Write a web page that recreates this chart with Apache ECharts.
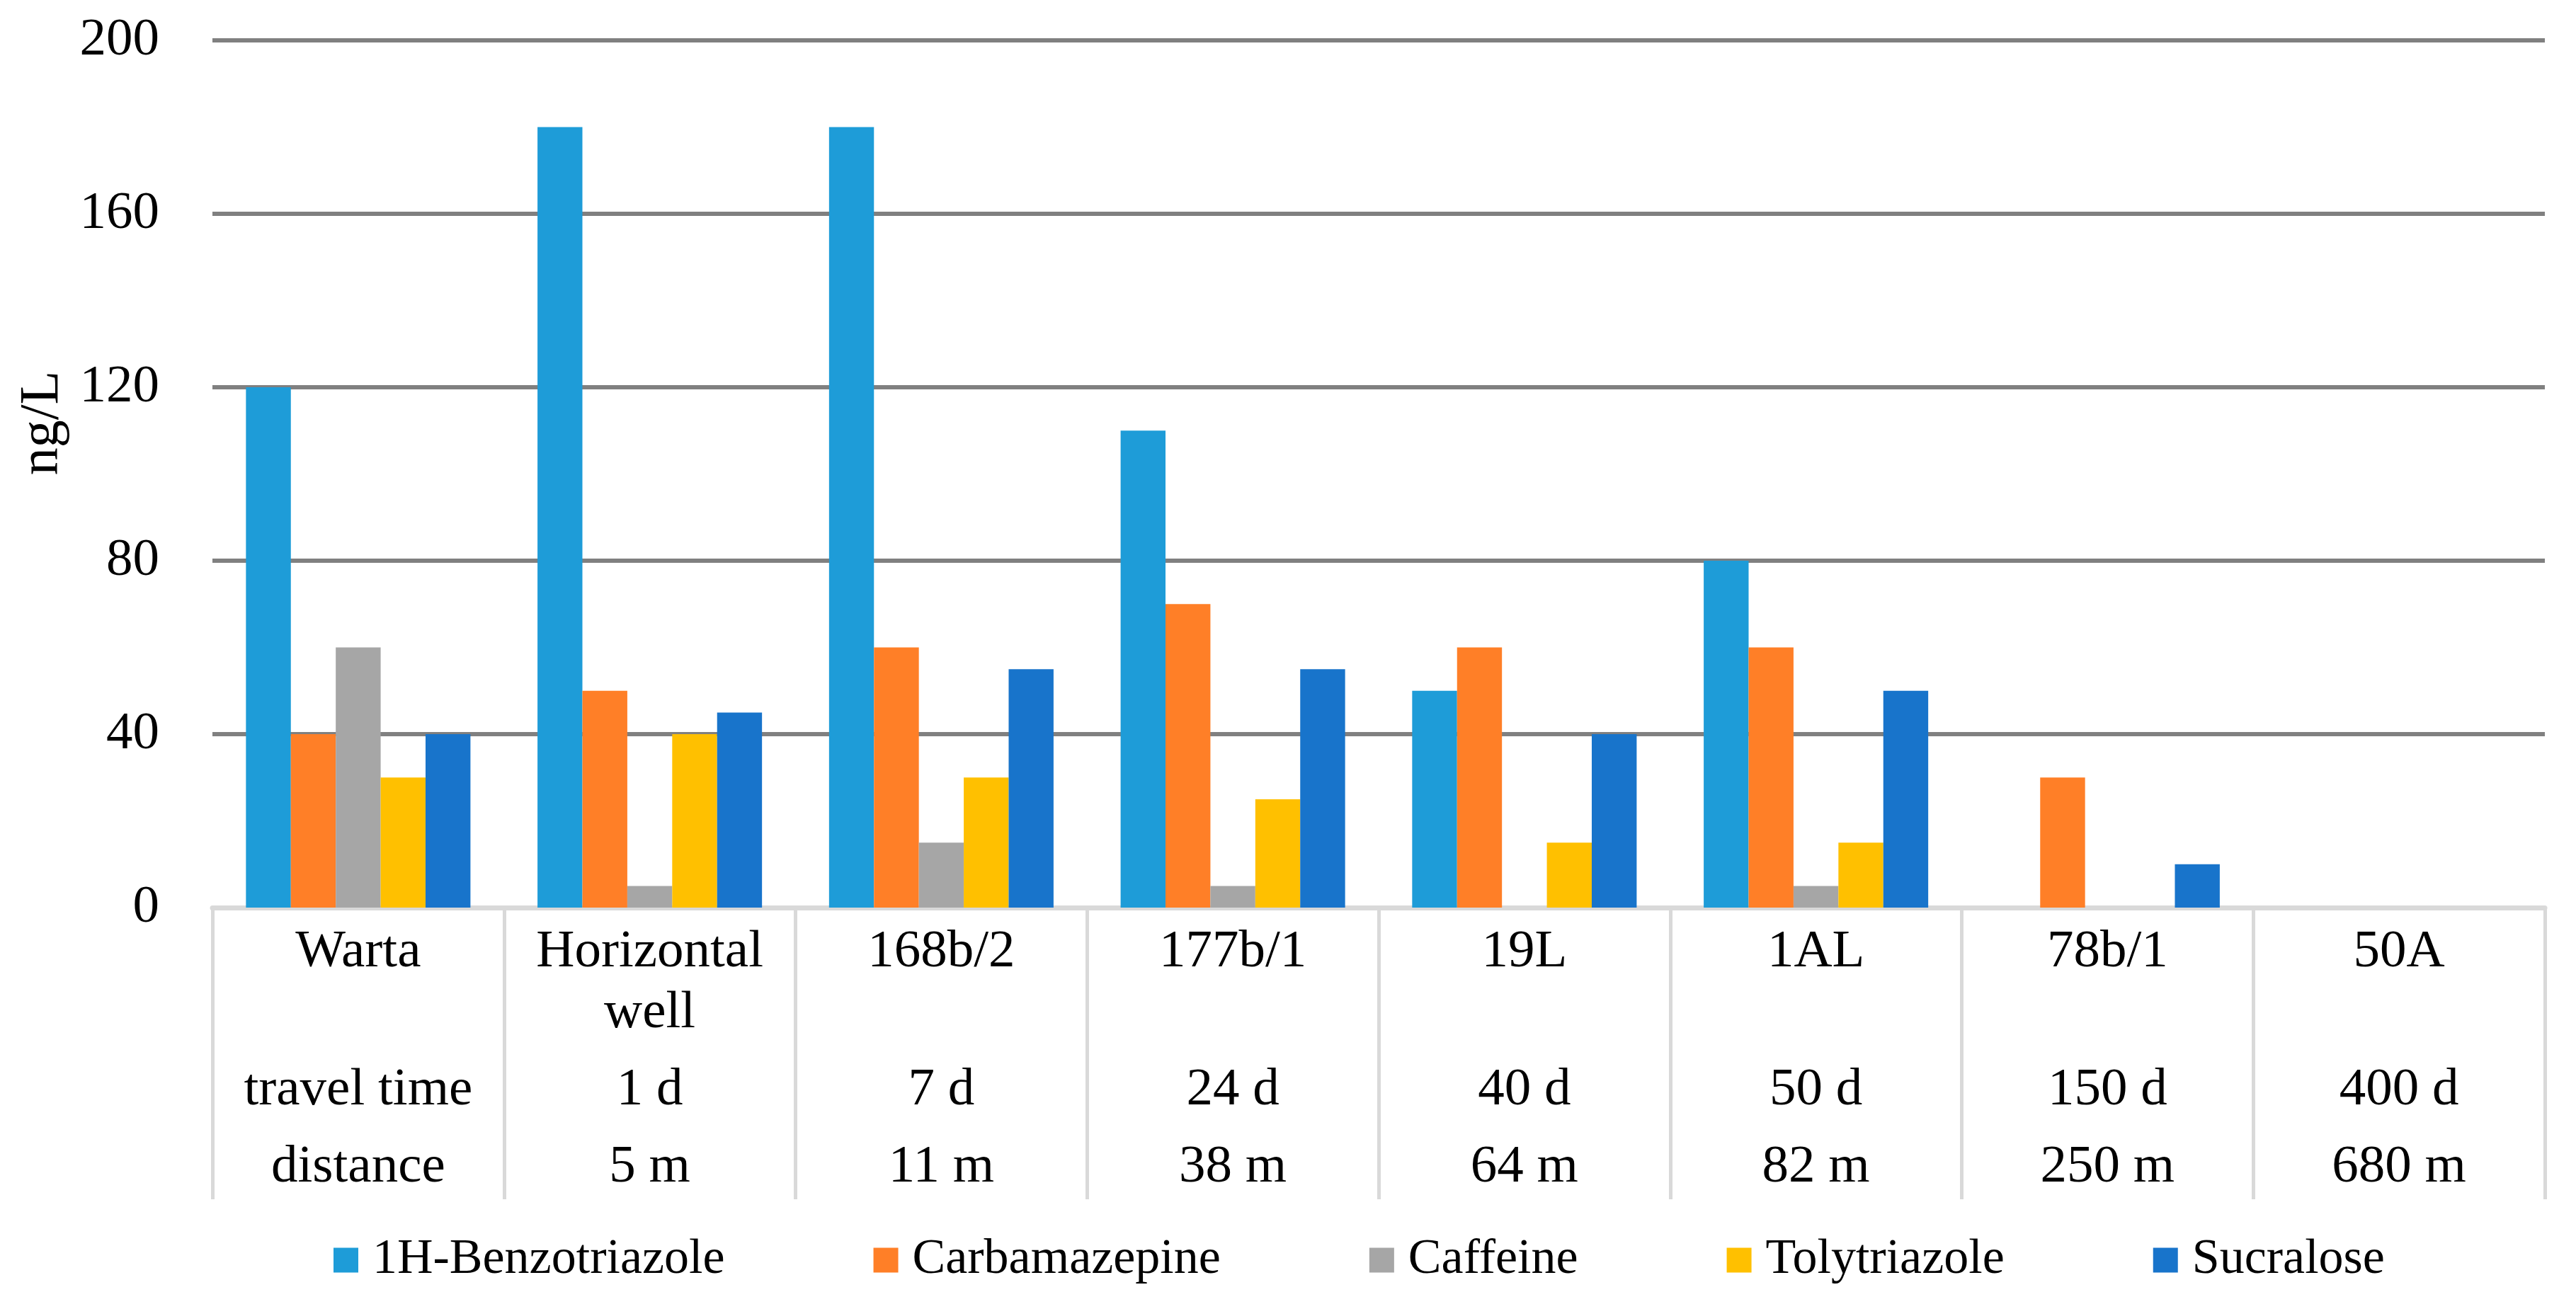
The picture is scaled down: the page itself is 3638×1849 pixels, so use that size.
<!DOCTYPE html>
<html>
<head>
<meta charset="utf-8">
<title>Micropollutants along the flow path</title>
<script src="https://cdn.jsdelivr.net/npm/echarts@6/dist/echarts.min.js"></script>
<style>
  html, body { margin: 0; padding: 0; background: #fff; }
  #chart { width: 3638px; height: 1849px; }
</style>
</head>
<body>
<div id="chart"></div>
<script>
// sites (first table row), travel time and distance rows
const sites = ['Warta', 'Horizontal\nwell', '168b/2', '177b/1', '19L', '1AL', '78b/1', '50A'];
const travelTime = ['travel time', '1 d', '7 d', '24 d', '40 d', '50 d', '150 d', '400 d'];
const distance = ['distance', '5 m', '11 m', '38 m', '64 m', '82 m', '250 m', '680 m'];

// concentrations, ng/L
const benzotriazole = [120, 180, 180, 110, 50, 80, 0, 0];
const carbamazepine = [40, 50, 60, 70, 60, 60, 30, 0];
const caffeine = [60, 5, 15, 5, 0, 5, 0, 0];
const tolytriazole = [30, 40, 30, 25, 15, 15, 0, 0];
const sucralose = [40, 45, 55, 55, 40, 50, 10, 0];

const yTicks = { min: 0, max: 200, interval: 40 };

const FONT = "'Liberation Serif', 'Times New Roman', serif";
const tableLine = '#d9d9d9';

const seriesDefs = [
  { name: '1H-Benzotriazole', data: benzotriazole, color: '#1e9cd8' },
  { name: 'Carbamazepine', data: carbamazepine, color: '#ff7f27' },
  { name: 'Caffeine', data: caffeine, color: '#a6a6a6' },
  { name: 'Tolytriazole', data: tolytriazole, color: '#ffc000' },
  { name: 'Sucralose', data: sucralose, color: '#1874cb' }
];

// extra label rows under the category axis
function rowAxis(data, margin) {
  return {
    type: 'category',
    data: data,
    position: 'bottom',
    offset: 0,
    axisLine: { show: false },
    axisTick: { show: false },
    splitLine: { show: false },
    axisLabel: {
      interval: 0,
      margin: margin,
      color: '#000',
      fontFamily: FONT,
      fontSize: 75,
      lineHeight: 86
    }
  };
}

const chart = echarts.init(document.getElementById('chart'));

chart.setOption({
  animation: false,
  backgroundColor: '#fff',
  grid: { left: 300, right: 44, top: 57, bottom: 567, containLabel: false },
  legend: {
    left: 466,
    top: 1740,
    itemWidth: 35,
    itemHeight: 35,
    itemGap: 210,
    icon: 'rect',
    textStyle: {
      color: '#000',
      fontFamily: FONT,
      fontSize: 70,
      padding: [0, 0, 0, 15]
    },
    data: seriesDefs.map(s => s.name)
  },
  xAxis: [
    {
      type: 'category',
      data: sites,
      position: 'bottom',
      axisLine: { show: true, lineStyle: { color: tableLine, width: 7 } },
      axisTick: {
        show: true,
        length: 412,
        lineStyle: { color: tableLine, width: 5 }
      },
      axisLabel: {
        interval: 0,
        margin: 20,
        color: '#000',
        fontFamily: FONT,
        fontSize: 75,
        lineHeight: 86
      }
    },
    rowAxis(travelTime, 215),
    rowAxis(distance, 324)
  ],
  yAxis: {
    type: 'value',
    min: yTicks.min,
    max: yTicks.max,
    interval: yTicks.interval,
    name: 'ng/L',
    nameLocation: 'middle',
    nameGap: 200,
    nameRotate: 90,
    nameTextStyle: {
      color: '#000',
      fontFamily: FONT,
      fontSize: 78,
      padding: [0, 0, 0, 144]
    },
    axisLine: { show: false },
    axisTick: { show: false },
    axisLabel: {
      margin: 75,
      color: '#000',
      fontFamily: FONT,
      fontSize: 75
    },
    splitLine: { lineStyle: { color: '#808080', width: 6 } }
  },
  series: seriesDefs.map(s => ({
    name: s.name,
    type: 'bar',
    xAxisIndex: 0,
    data: s.data,
    barGap: '0%',
    barCategoryGap: '23%',
    itemStyle: { color: s.color }
  }))
});
</script>
</body>
</html>
